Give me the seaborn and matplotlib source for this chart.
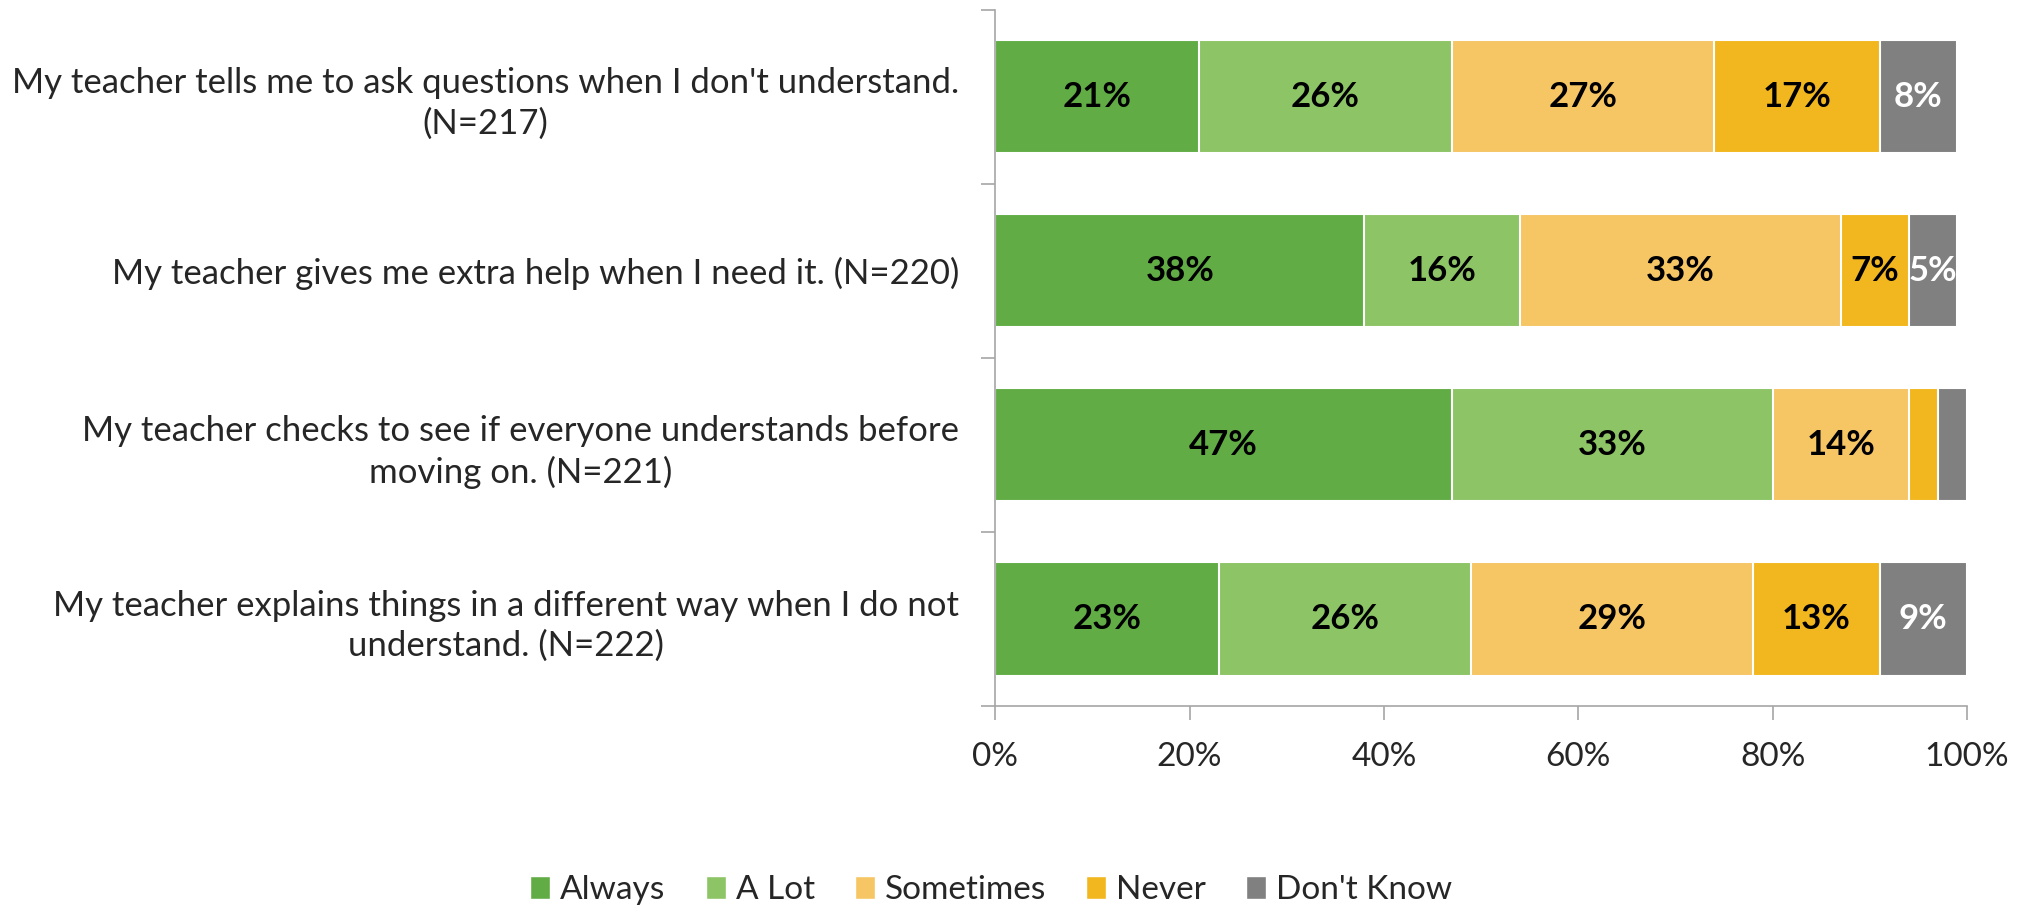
import matplotlib
matplotlib.use("Agg")
import matplotlib.pyplot as plt
import seaborn as sns
import pandas as pd
import numpy as np
from matplotlib.patches import Patch

questions = [
    "My teacher tells me to ask questions when I don't understand.\n(N=217)",
    "My teacher gives me extra help when I need it. (N=220)",
    "My teacher checks to see if everyone understands before\nmoving on. (N=221)",
    "My teacher explains things in a different way when I do not\nunderstand. (N=222)",
]
responses = ["Always", "A Lot", "Sometimes", "Never", "Don't Know"]
always = [21, 38, 47, 23]
a_lot = [26, 16, 33, 26]
sometimes = [27, 33, 14, 29]
never = [17, 7, 3, 13]
dont_know = [8, 5, 3, 9]
colors = ["#62AC46", "#8DC466", "#F6C564", "#F2B71E", "#808080"]
label_colors = ["black", "black", "black", "black", "white"]

sns.set_theme(style="white")
plt.rcParams["font.family"] = ["Lato", "DejaVu Sans"]

series = [always, a_lot, sometimes, never, dont_know]
vals = np.array(series, dtype=float)
cum = np.cumsum(vals, axis=0)

fig = plt.figure(figsize=(20.31, 9.08), dpi=100)
ax = fig.add_axes([0.490, 0.2225, 0.4785, 0.767])

# draw cumulative bars from total down to first series
for i in range(len(responses) - 1, -1, -1):
    df = pd.DataFrame({"q": questions, "v": cum[i]})
    sns.barplot(data=df, x="v", y="q", orient="h", color=colors[i],
                width=0.65, edgecolor="white", linewidth=1.5, saturation=1,
                ax=ax, order=questions)

for i in range(len(responses)):
    for j in range(len(questions)):
        v = vals[i, j]
        if v >= 5:
            xc = cum[i, j] - v / 2
            ax.text(xc, j, f"{int(v)}%", ha="center", va="center",
                    fontsize=25, fontweight="bold", color=label_colors[i])

ax.set_xlim(0, 100)
ax.set_ylim(3.5, -0.5)
ax.set_xticks([0, 20, 40, 60, 80, 100])
ax.set_xticklabels([f"{t}%" for t in [0, 20, 40, 60, 80, 100]], fontsize=24)
ax.set_xlabel("")
ax.set_ylabel("")
ax.set_yticks(range(len(questions)))
ax.set_yticklabels(questions, fontsize=25)
for t in ax.get_yticklabels():
    t.set_multialignment("center")
    t.set_linespacing(1.3)
ax.tick_params(axis="y", which="major", length=0, pad=26)
ax.set_yticks([-0.5, 0.5, 1.5, 2.5, 3.5], minor=True)
ax.tick_params(axis="y", which="minor", length=10, color="#A6A6A6", width=1.2, left=True)
ax.tick_params(axis="x", which="major", length=10, color="#A6A6A6", width=1.2, bottom=True, pad=16)

for s in ["top", "right"]:
    ax.spines[s].set_visible(False)
for s in ["left", "bottom"]:
    ax.spines[s].set_color("#A6A6A6")
    ax.spines[s].set_linewidth(1.2)

handles = [Patch(facecolor=c, label=r) for c, r in zip(colors, responses)]
fig.legend(handles=handles, loc="center", bbox_to_anchor=(0.488, 0.02), ncol=5,
           frameon=False, fontsize=24, handlelength=0.6, handleheight=0.7,
           handletextpad=0.3, columnspacing=1.2)

fig.savefig("out.png", dpi=100)
